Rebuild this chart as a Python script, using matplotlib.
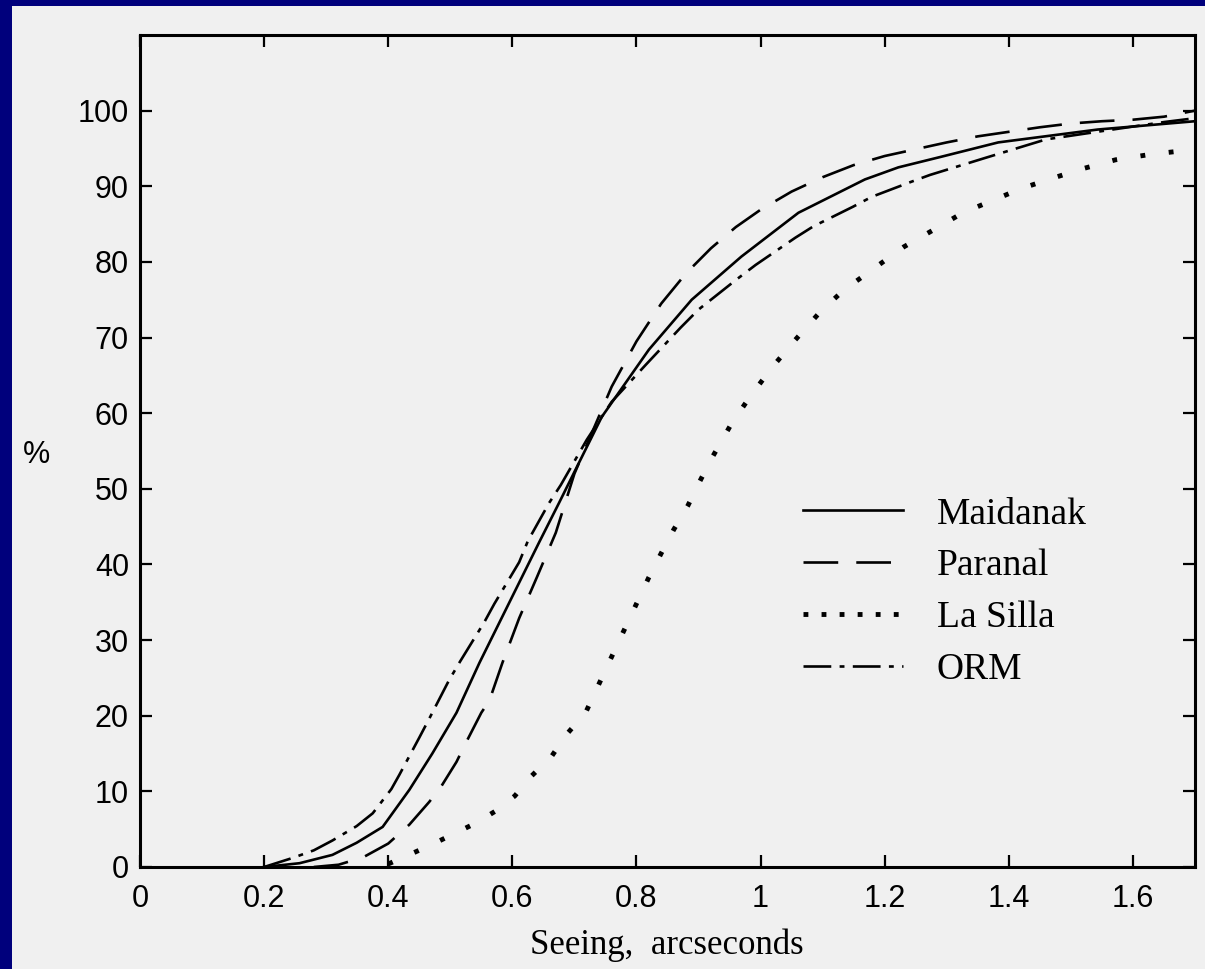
import matplotlib
matplotlib.use("Agg")
import matplotlib.pyplot as plt
from matplotlib.patches import Rectangle

plt.rcParams['lines.scale_dashes'] = False

# Cumulative seeing distributions, % of nights vs seeing (arcsec)
maidanak_x = [0.20, 0.257, 0.31, 0.349, 0.391, 0.434, 0.471, 0.510, 0.547, 0.579,
              0.611, 0.643, 0.675, 0.744, 0.820, 0.889, 0.969, 1.061, 1.168,
              1.222, 1.291, 1.383, 1.543, 1.70]
maidanak_y = [0.0, 0.5, 1.6, 3.2, 5.3, 10.2, 15.0, 20.4, 27.0, 32.3,
              37.6, 42.9, 48.1, 59.5, 68.4, 75.0, 80.7, 86.5, 90.9,
              92.5, 93.9, 95.8, 97.5, 98.6]

paranal_x = [0.28, 0.32, 0.36, 0.40, 0.434, 0.466, 0.485, 0.51, 0.525, 0.55,
             0.563, 0.584, 0.611, 0.640, 0.670, 0.70, 0.76, 0.80, 0.84, 0.88,
             0.92, 0.96, 1.00, 1.05, 1.10, 1.15, 1.20, 1.25, 1.30, 1.35, 1.40,
             1.45, 1.50, 1.55, 1.60, 1.65, 1.70]
paranal_y = [0.0, 0.3, 1.3, 3.1, 5.6, 8.6, 10.6, 13.9, 16.4, 20.4,
             22.0, 27.0, 32.9, 38.4, 44.2, 52.0, 63.5, 69.5, 74.5, 78.5,
             81.8, 84.6, 86.9, 89.3, 91.2, 92.8, 94.0, 94.9, 95.8, 96.6, 97.2,
             97.8, 98.3, 98.6, 98.8, 99.2, 100.0]

lasilla_x = [0.40, 0.436, 0.471, 0.511, 0.541, 0.573, 0.604, 0.628, 0.663, 0.687,
             0.718, 0.739, 0.76, 0.78, 0.80, 0.82, 0.84, 0.86, 0.883, 0.899,
             0.921, 0.953, 0.984, 1.019, 1.056, 1.095, 1.133, 1.182, 1.231,
             1.280, 1.326, 1.373, 1.420, 1.468, 1.518, 1.572, 1.627, 1.670]
lasilla_y = [0.4, 1.7, 3.0, 4.6, 5.8, 7.4, 9.4, 11.8, 14.6, 17.5,
             20.4, 24.1, 27.8, 31.3, 34.8, 38.3, 41.5, 44.6, 47.8, 50.5,
             54.0, 58.6, 62.3, 66.1, 69.7, 73.3, 76.2, 79.1, 82.0,
             84.3, 86.5, 88.1, 89.7, 91.0, 92.3, 93.5, 94.2, 94.6]

orm_x = [0.20, 0.246, 0.28, 0.31, 0.349, 0.375, 0.405, 0.418, 0.45, 0.466,
         0.498, 0.516, 0.555, 0.571, 0.611, 0.625, 0.659, 0.678, 0.72, 0.76,
         0.815, 0.871, 0.900, 0.960, 0.992, 1.056, 1.085, 1.149, 1.179,
         1.243, 1.273, 1.364, 1.460, 1.567, 1.651, 1.70]
orm_y = [0.0, 1.2, 2.2, 3.5, 5.4, 7.1, 10.3, 12.2, 17.1, 19.6,
         24.7, 27.2, 32.4, 34.8, 40.3, 43.1, 48.1, 50.5, 56.5, 61.5,
         66.4, 71.3, 73.7, 77.6, 79.6, 83.2, 84.7, 87.3, 88.6,
         90.6, 91.5, 93.8, 96.2, 97.5, 98.5, 99.0]

x_ticks = [0, 0.2, 0.4, 0.6, 0.8, 1, 1.2, 1.4, 1.6]
x_ticklabels = ["0", "0.2", "0.4", "0.6", "0.8", "1", "1.2", "1.4", "1.6"]
y_ticks = list(range(0, 101, 10))

navy = "#00007c"
panel = "#f0f0f0"
tick_font = ["Liberation Sans", "DejaVu Sans"]
serif = ["Liberation Serif", "DejaVu Serif"]

fig = plt.figure(figsize=(12.05, 9.69), dpi=100, facecolor=navy)
fig.patches.append(Rectangle((12 / 1205, 0), 1, 1 - 6 / 969,
                             transform=fig.transFigure, facecolor=panel,
                             edgecolor="none", zorder=-10))

ax = fig.add_axes([140 / 1205, 1 - 867 / 969, 1055 / 1205, 832 / 969])
ax.set_facecolor(panel)

lw = 1.9
ax.plot(maidanak_x, maidanak_y, color="black", lw=lw, label="Maidanak")
ax.plot(paranal_x, paranal_y, color="black", lw=lw, dashes=(25, 13),
        label="Paranal")
ax.plot(lasilla_x, lasilla_y, color="black", lw=3.5, dashes=(3.5, 17),
        dash_capstyle="butt", label="La Silla")
ax.plot(orm_x, orm_y, color="black", lw=lw, dashes=(20, 6, 3.5, 6),
        label="ORM")

ax.set_xlim(0, 1.7)
ax.set_ylim(0, 110)
ax.set_xticks(x_ticks)
ax.set_xticklabels(x_ticklabels)
ax.set_yticks(y_ticks)
ax.tick_params(direction="in", length=8.5, width=1.6, top=True, right=True,
               labelsize=22, colors="black")
ax.tick_params(axis="x", pad=12)
ax.tick_params(axis="y", pad=8)
for lab in ax.get_xticklabels() + ax.get_yticklabels():
    lab.set_family(tick_font)
for sp in ax.spines.values():
    sp.set_linewidth(2.2)

fig.text(667 / 1205, 1 - 945 / 969, "Seeing,  arcseconds", family=serif,
         fontsize=25, ha="center", va="center")
fig.text(36 / 1205, 1 - 455 / 969, "%", family=tick_font, fontsize=22,
         ha="center", va="center")

leg = ax.legend(loc="upper left", bbox_to_anchor=(803 / 1205, 1 - 497 / 969),
                bbox_transform=fig.transFigure, frameon=False,
                prop={"family": serif, "size": 27}, handlelength=2.67,
                handletextpad=0.9, labelspacing=0.46, borderpad=0,
                borderaxespad=0)
leg.get_lines()[2].set_dashes((3.5, 9.5))

fig.savefig("out.png", dpi=100, facecolor=navy)
